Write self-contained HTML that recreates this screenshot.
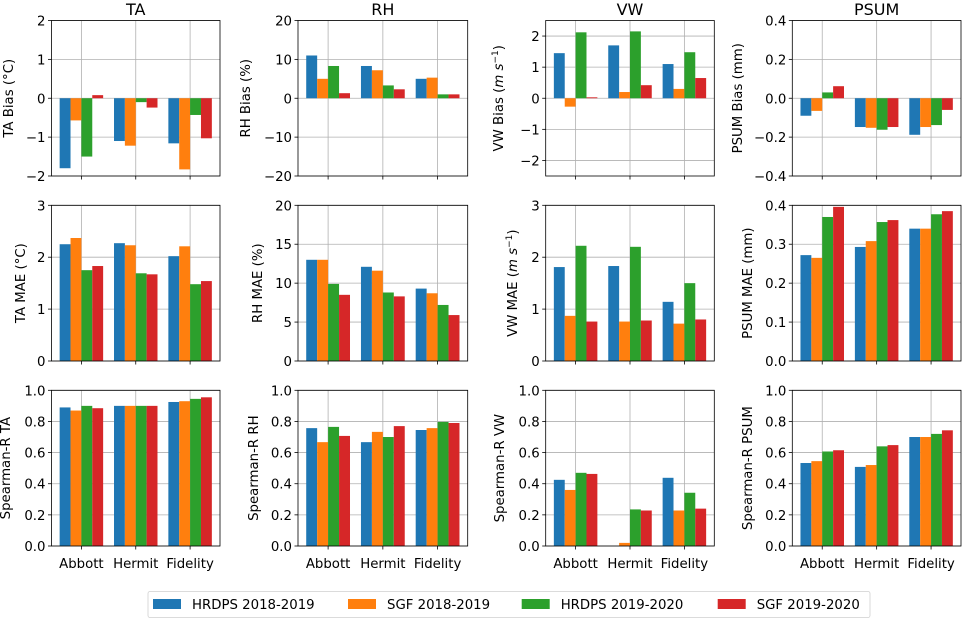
<!DOCTYPE html>
<html><head><meta charset="utf-8"><style>
body{margin:0;background:#fff}
svg{display:block;font-family:"DejaVu Sans","Liberation Sans",sans-serif}
</style></head><body>
<svg id="c" width="963" height="619" xmlns="http://www.w3.org/2000/svg"></svg>
<script>
const categories = ["Abbott","Hermit","Fidelity"];
const seriesNames = ["HRDPS 2018-2019","SGF 2018-2019","HRDPS 2019-2020","SGF 2019-2020"];
const colors = ["#1f77b4","#ff7f0e","#2ca02c","#d62728"];
// values: [series][category]
const taBias = [[-1.8,-1.1,-1.16],[-0.57,-1.22,-1.83],[-1.5,-0.1,-0.43],[0.08,-0.24,-1.03]];
const rhBias = [[11,8.3,5],[5,7.2,5.3],[8.3,3.3,1],[1.3,2.3,1]];
const vwBias = [[1.45,1.7,1.1],[-0.27,0.2,0.3],[2.12,2.15,1.48],[0.03,0.42,0.65]];
const psumBias = [[-0.09,-0.148,-0.188],[-0.065,-0.152,-0.148],[0.03,-0.162,-0.138],[0.062,-0.148,-0.06]];
const taMae = [[2.25,2.27,2.02],[2.37,2.23,2.21],[1.75,1.69,1.48],[1.83,1.67,1.54]];
const rhMae = [[13,12.1,9.3],[13,11.6,8.7],[9.9,8.8,7.2],[8.5,8.3,5.9]];
const vwMae = [[1.81,1.83,1.14],[0.87,0.76,0.72],[2.22,2.2,1.5],[0.76,0.78,0.8]];
const psumMae = [[0.272,0.293,0.34],[0.265,0.308,0.34],[0.37,0.357,0.377],[0.396,0.362,0.385]];
const taR = [[0.89,0.9,0.925],[0.87,0.9,0.93],[0.9,0.9,0.945],[0.885,0.9,0.955]];
const rhR = [[0.757,0.667,0.745],[0.667,0.733,0.757],[0.765,0.7,0.797],[0.707,0.77,0.79]];
const vwR = [[0.425,0,0.438],[0.36,0.02,0.228],[0.47,0.235,0.342],[0.463,0.228,0.24]];
const psumR = [[0.533,0.508,0.7],[0.545,0.52,0.7],[0.607,0.64,0.72],[0.615,0.648,0.743]];
const ticksTaBias=[-2,-1,0,1,2], ticksRhBias=[-20,-10,0,10,20], ticksVwBias=[-2,-1,0,1,2], ticksPsumBias=[-0.4,-0.2,0,0.2,0.4];
const ticksTaMae=[0,1,2,3], ticksRhMae=[0,5,10,15,20], ticksVwMae=[0,1,2,3], ticksPsumMae=[0,0.1,0.2,0.3,0.4];
const ticksR=[0,0.2,0.4,0.6,0.8,1.0];

const svg=document.getElementById('c');
const NS="http://www.w3.org/2000/svg";
function mk(tag,attrs,parent){const e=document.createElementNS(NS,tag);for(const k in attrs)e.setAttribute(k,attrs[k]);(parent||svg).appendChild(e);return e;}
const colX=[[51.5,220],[298,467.7],[545.7,714.3],[792.3,961]];
const rowY=[[20.5,176],[205.3,361],[390.3,546]];
const labelX=[[8,245,498,737],[20,257,512,747],[5,253,499,747]];
const titles=["TA","RH","VW","PSUM"];
const panels=[
 [taBias,[-2,2],ticksTaBias,0,"TA Bias (°C)"],[rhBias,[-20,20],ticksRhBias,0,"RH Bias (%)"],[vwBias,[-2.5,2.5],ticksVwBias,0,"VW Bias"],[psumBias,[-0.4,0.4],ticksPsumBias,1,"PSUM Bias (mm)"],
 [taMae,[0,3],ticksTaMae,0,"TA MAE (°C)"],[rhMae,[0,20],ticksRhMae,0,"RH MAE (%)"],[vwMae,[0,3],ticksVwMae,0,"VW MAE"],[psumMae,[0,0.4],ticksPsumMae,1,"PSUM MAE (mm)"],
 [taR,[0,1],ticksR,1,"Spearman-R TA"],[rhR,[0,1],ticksR,1,"Spearman-R RH"],[vwR,[0,1],ticksR,1,"Spearman-R VW"],[psumR,[0,1],ticksR,1,"Spearman-R PSUM"]];
function fmt(v,d){let s=v.toFixed(d);if(v<0)s="\u2212"+s.slice(1);return s;}
panels.forEach((p,i)=>{
 const r=Math.floor(i/4),c=i%4;
 const [x0,x1]=colX[c],[y0,y1]=rowY[r];
 const [data,ylim,ticks,dec,label]=p;
 const g=mk('g',{});
 
 
 const X=u=>x0+(u+0.55)/3.1*(x1-x0);
 const Y=v=>y1-(v-ylim[0])/(ylim[1]-ylim[0])*(y1-y0);
 ticks.forEach(t=>{const l=mk('line',{x1:x0,x2:x1,y1:Y(t),y2:Y(t),stroke:'#b0b0b0','stroke-width':0.8},g);});
 categories.forEach((cat,ci)=>{const l=mk('line',{x1:X(ci),x2:X(ci),y1:y0,y2:y1,stroke:'#b0b0b0','stroke-width':0.8},g);});
 data.forEach((ser,si)=>{ser.forEach((v,ci)=>{
  const xl=X(ci+(si-2)*0.2),xr=X(ci+(si-1)*0.2);
  const a=Y(v),b=Y(0);
  const rect=mk('rect',{x:xl,y:Math.min(a,b),width:xr-xl,height:Math.abs(a-b),fill:colors[si]},g);
  
  
 });});
 mk('rect',{x:x0,y:y0,width:x1-x0,height:y1-y0,fill:'none',stroke:'#000','stroke-width':0.8},g);
 ticks.forEach(t=>{const y=Y(t);mk('line',{x1:x0-3.5,x2:x0,y1:y,y2:y,stroke:'#000','stroke-width':0.8},g);
  const tx=mk('text',{x:x0-6,y:y+5,'text-anchor':'end','font-size':13.3},g);tx.textContent=fmt(t,dec);
  });
 categories.forEach((cat,ci)=>{mk('line',{x1:X(ci),x2:X(ci),y1:y1,y2:y1+3.5,stroke:'#000','stroke-width':0.8},g);
  if(r===2){const tx=mk('text',{x:X(ci),y:y1+22,'text-anchor':'middle','font-size':13.3},g);tx.textContent=cat;
   }});
 const lx=labelX[r][c],ly=(y0+y1)/2;
 const yl=mk('text',{x:lx,y:ly,'text-anchor':'middle','font-size':13.3,transform:`rotate(-90 ${lx} ${ly})`,dy:5},g);
 
 if(c===2&&r<2){yl.innerHTML=label+' (<tspan font-style="italic">m s</tspan><tspan font-size="9" dy="-5">\u22121</tspan><tspan dy="5">)</tspan>';}
 else yl.textContent=label;
 if(r===0){const t=mk('text',{x:(x0+x1)/2,y:15,'text-anchor':'middle','font-size':16},g);t.textContent=titles[c];
  }
});
const lg=mk('g',{});


mk('rect',{x:148,y:591.5,width:722,height:26,rx:2,fill:'#fff',stroke:'#d0d0d0','stroke-width':0.8},lg);
const lgX=[153,348,521.7,717.7];
seriesNames.forEach((n,i)=>{
 const e=mk('g',{},lg);
 
 
 mk('rect',{x:lgX[i],y:599,width:28,height:10,fill:colors[i]},e);
 const t=mk('text',{x:lgX[i]+39,y:609,'font-size':13.3},e);t.textContent=n;
});
</script>
</body></html>
